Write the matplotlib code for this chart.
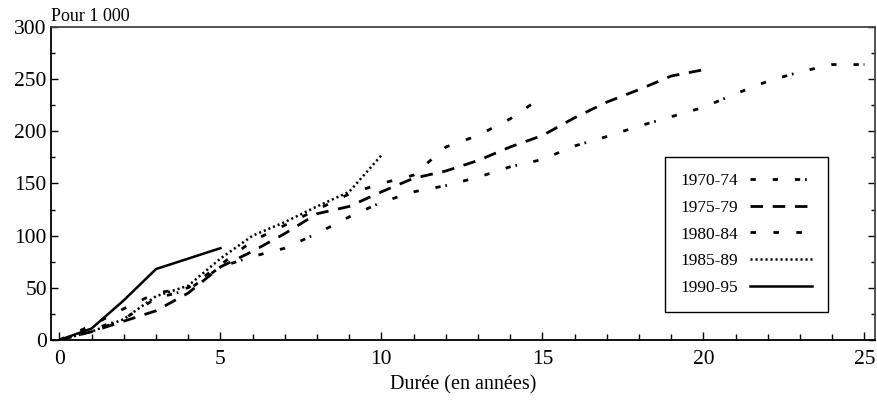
import matplotlib
matplotlib.use("Agg")
import matplotlib.pyplot as plt
from matplotlib.ticker import MultipleLocator

plt.rcParams["font.family"] = ["Liberation Serif", "DejaVu Serif"]
plt.rcParams["lines.scale_dashes"] = False

# durée (années) et taux cumulés pour 1 000
years_7074 = list(range(0, 26))
vals_7074 = [0, 10, 20, 40, 48, 70, 80, 88, 102, 118, 132, 142, 148, 156, 166,
             173, 186, 195, 205, 214, 223, 236, 248, 257, 264, 264]

years_7579 = list(range(0, 21))
vals_7579 = [0, 8, 18, 28, 45, 70, 85, 102, 121, 128, 142, 155, 162, 172, 185,
             196, 213, 228, 240, 253, 259]

years_8084 = list(range(0, 16))
vals_8084 = [0, 14, 30, 45, 50, 72, 95, 110, 125, 140, 150, 158, 185, 196, 212, 233]

years_8589 = list(range(0, 11))
vals_8589 = [0, 8, 20, 42, 52, 78, 100, 113, 128, 142, 177]

years_9095 = [0, 1, 2, 3, 4, 5]
vals_9095 = [0, 11, 38, 68, 78, 88]

labels = ["1970-74", "1975-79", "1980-84", "1985-89", "1990-95"]

fig = plt.figure(figsize=(8.78, 4.0), dpi=100)
ax = fig.add_axes([0.0581, 0.15, 0.9385, 0.7825])

ax.plot(years_7074, vals_7074, color="black", lw=2.0,
        dashes=(3.8, 12.2, 3.8, 12.2, 3.8, 3.5, 1.2, 12), label=labels[0])
ax.plot(years_7579, vals_7579, color="black", lw=2.0,
        dashes=(9, 7), label=labels[1])
ax.plot(years_8084, vals_8084, color="black", lw=2.0,
        dashes=(4, 12.5), label=labels[2])
ax.plot(years_8589, vals_8589, color="black", lw=1.8,
        dashes=(1.5, 2.1), label=labels[3])
ax.plot(years_9095, vals_9095, color="black", lw=1.8,
        label=labels[4])

ax.set_xlim(-0.26, 25.33)
ax.set_ylim(0, 300)

ax.xaxis.set_major_locator(MultipleLocator(5))
ax.xaxis.set_minor_locator(MultipleLocator(1))
ax.yaxis.set_major_locator(MultipleLocator(50))
ax.yaxis.set_minor_locator(MultipleLocator(25))

ax.tick_params(axis="both", which="both", direction="in", labelsize=15.5)
ax.tick_params(axis="x", which="major", length=6, width=1, pad=7)
ax.tick_params(axis="x", which="minor", length=4, width=1)
ax.tick_params(axis="y", which="major", length=5, width=1, right=True, pad=3)
ax.tick_params(axis="y", which="minor", length=3, width=1, right=True)

for side in ["left", "bottom"]:
    ax.spines[side].set_color("black")
    ax.spines[side].set_linewidth(1.3)
for side in ["top", "right"]:
    ax.spines[side].set_color("#444444")
    ax.spines[side].set_linewidth(1.3)

ax.set_xlabel("Durée (en années)", fontsize=14.5, labelpad=5)
ax.text(0.0, 1.005, "Pour 1 000", transform=ax.transAxes,
        fontsize=13, ha="left", va="bottom")

leg = ax.legend(loc="lower left", bbox_to_anchor=(0.745, 0.0895),
                borderaxespad=0, markerfirst=False, handlelength=3.55,
                fontsize=12.5, labelspacing=0.62, borderpad=0.9,
                handletextpad=0.7, fancybox=False, framealpha=1,
                edgecolor="black")
leg.get_frame().set_linewidth(1.0)

fig.savefig("out.png", dpi=100)
